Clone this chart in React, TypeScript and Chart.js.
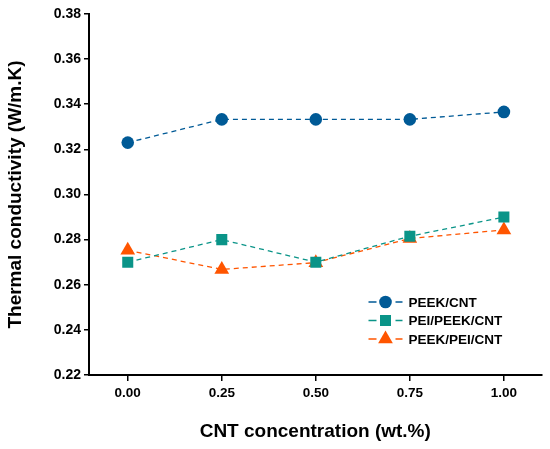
import { useEffect, useRef } from "react";
import { Chart, registerables } from "chart.js";

Chart.register(...registerables);

const xValues = [0, 0.25, 0.5, 0.75, 1.0];
const peekCnt = [0.323, 0.3333, 0.3333, 0.3333, 0.3366];
const peiPeekCnt = [0.27, 0.28, 0.27, 0.2815, 0.29];
const peekPeiCnt = [0.2753, 0.2668, 0.2698, 0.2805, 0.2843];
const xTicks = [0, 0.25, 0.5, 0.75, 1.0];
const yTicks = [0.22, 0.24, 0.26, 0.28, 0.3, 0.32, 0.34, 0.36, 0.38];

const FONT = "'Liberation Sans', Arial, sans-serif";

const toPoints = (ys: number[]) => xValues.map((x, i) => ({ x, y: ys[i] }));

function marker(ctx: CanvasRenderingContext2D, style: string, r: number, x: number, y: number) {
  ctx.beginPath();
  if (style === "circle") {
    ctx.arc(x, y, r, 0, Math.PI * 2);
  } else if (style === "rect") {
    const s = r / Math.SQRT2;
    ctx.rect(x - s, y - s, 2 * s, 2 * s);
  } else {
    const h = r * 1.5;
    const w = r * Math.sqrt(3);
    ctx.moveTo(x, y - r);
    ctx.lineTo(x + w / 2, y - r + h);
    ctx.lineTo(x - w / 2, y - r + h);
    ctx.closePath();
  }
  ctx.fill();
}

// legend with dashed line on both sides of the marker
const dashLegend = {
  id: "dashLegend",
  afterDraw(chart: any) {
    const { ctx, chartArea } = chart;
    const x0 = chartArea.right - 173;
    let y = chartArea.bottom - 73;
    ctx.save();
    chart.data.datasets.forEach((ds: any) => {
      ctx.strokeStyle = ds.borderColor;
      ctx.lineWidth = 1.3;
      ctx.setLineDash([]);
      ctx.beginPath();
      ctx.moveTo(x0, y);
      ctx.lineTo(x0 + 8, y);
      ctx.moveTo(x0 + 27, y);
      ctx.lineTo(x0 + 34, y);
      ctx.stroke();
      ctx.fillStyle = ds.pointBackgroundColor;
      marker(ctx, ds.pointStyle, ds.pointRadius, x0 + 17, y);
      ctx.fillStyle = "#000";
      ctx.font = `bold 13.5px ${FONT}`;
      ctx.textBaseline = "middle";
      ctx.textAlign = "left";
      ctx.fillText(ds.label, x0 + 40, y + 1);
      y += 18.5;
    });
    ctx.restore();
  },
};

export default function App() {
  const canvasRef = useRef<HTMLCanvasElement | null>(null);
  const chartRef = useRef<Chart | null>(null);

  useEffect(() => {
    document.body.style.margin = "0";
    if (!canvasRef.current) return;
    if (chartRef.current) chartRef.current.destroy();

    const line = (label: string, data: number[], color: string, style: string, r: number) => ({
      label,
      data: toPoints(data),
      borderColor: color,
      backgroundColor: color,
      pointBackgroundColor: color,
      pointBorderColor: color,
      pointBorderWidth: 0,
      pointStyle: style,
      pointRadius: r,
      borderWidth: 1.3,
      borderDash: [5, 4],
      tension: 0,
    });

    chartRef.current = new Chart(canvasRef.current, {
      type: "line",
      data: {
        datasets: [
          line("PEEK/CNT", peekCnt, "#005a96", "circle", 6.3),
          line("PEI/PEEK/CNT", peiPeekCnt, "#0a9488", "rect", 7.8),
          line("PEEK/PEI/CNT", peekPeiCnt, "#ff5500", "triangle", 8.5),
        ] as any,
      },
      options: {
        animation: false,
        responsive: false,
        layout: { padding: { top: 14, right: 7, left: 0, bottom: 0 } },
        plugins: { legend: { display: false }, tooltip: { enabled: false } },
        scales: {
          x: {
            type: "linear",
            min: -0.103,
            max: 1.1,
            afterBuildTicks: (s: any) => {
              s.ticks = xTicks.map((v) => ({ value: v }));
            },
            afterFit: (s: any) => {
              s.height = 74;
            },
            border: { display: true, color: "#000", width: 2 },
            grid: { display: true, drawOnChartArea: false, drawTicks: true, tickLength: 6, color: "#000", lineWidth: 1.5 },
            ticks: {
              color: "#000",
              font: { family: FONT, size: 13.5, weight: "bold" },
              padding: 4,
              maxRotation: 0,
              callback: (v: any) => Number(v).toFixed(2),
            },
            title: {
              display: true,
              text: "CNT concentration (wt.%)",
              color: "#000",
              font: { family: FONT, size: 19, weight: "bold" },
              padding: { top: 0, bottom: 6 },
            },
          },
          y: {
            min: 0.22,
            max: 0.38,
            afterBuildTicks: (s: any) => {
              s.ticks = yTicks.map((v) => ({ value: v }));
            },
            afterFit: (s: any) => {
              s.width = 89;
            },
            border: { display: true, color: "#000", width: 2 },
            grid: { display: true, drawOnChartArea: false, drawTicks: true, tickLength: 5, color: "#000", lineWidth: 1.5 },
            ticks: {
              color: "#000",
              font: { family: FONT, size: 14, weight: "bold" },
              padding: 3,
              callback: (v: any) => Number(v).toFixed(2),
            },
            title: {
              display: true,
              text: "Thermal conductivity (W/m.K)",
              color: "#000",
              font: { family: FONT, size: 19, weight: "bold" },
              padding: { top: 4, bottom: 0 },
            },
          },
        },
      },
      plugins: [dashLegend],
    });

    return () => {
      if (chartRef.current) {
        chartRef.current.destroy();
        chartRef.current = null;
      }
    };
  }, []);

  return (
    <div style={{ width: 550, height: 449, background: "#fff" }}>
      <canvas ref={canvasRef} width={550} height={449}></canvas>
    </div>
  );
}
